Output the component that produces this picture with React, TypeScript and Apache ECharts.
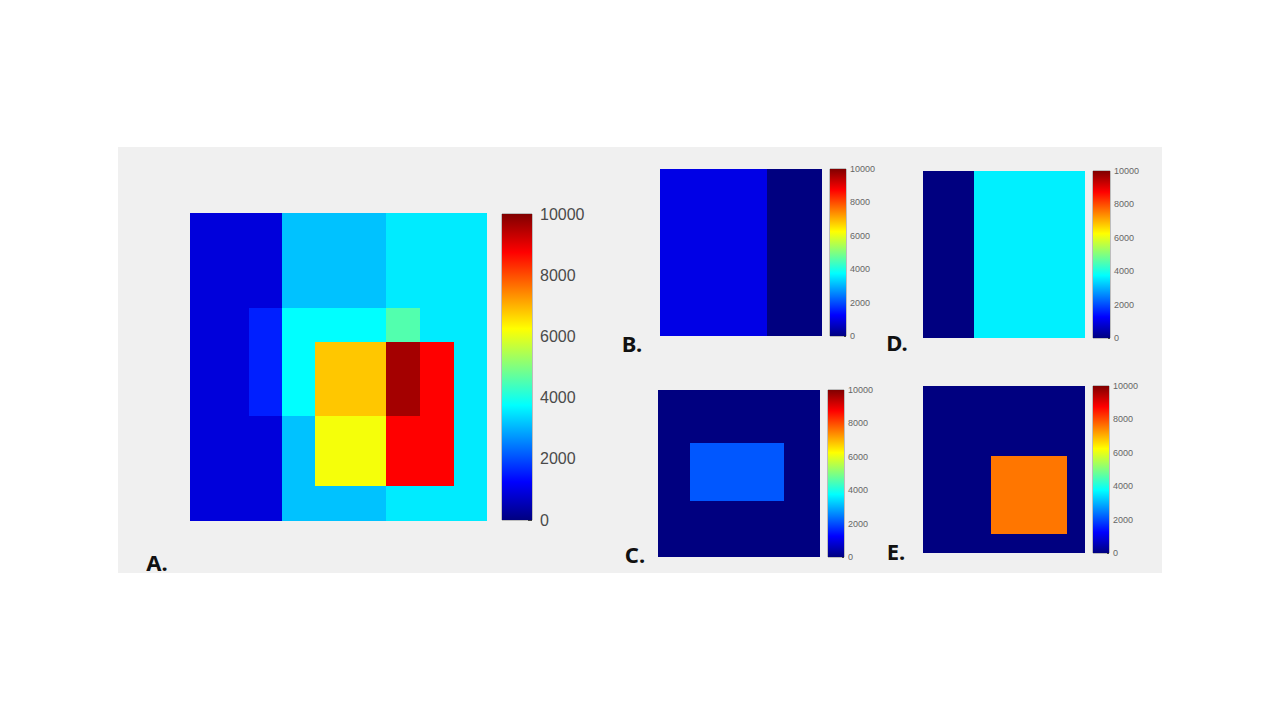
import React, { useEffect, useRef } from "react";
import * as echarts from "echarts";

// Each rect: [x0, x1, y0, y1, value] in fractions of the image (y measured from the top)
const panelA: number[][] = [
  [0, 0.31, 0, 1, 900],
  [0.31, 0.66, 0, 1, 3150],
  [0.66, 1, 0, 1, 3550],
  [0.2, 0.31, 0.31, 0.66, 1550],
  [0.31, 0.66, 0.31, 0.66, 3750],
  [0.66, 0.775, 0.31, 0.66, 4550],
  [0.42, 0.66, 0.42, 0.66, 6800],
  [0.66, 0.775, 0.42, 0.66, 9650],
  [0.775, 0.89, 0.42, 0.885, 8750],
  [0.66, 0.775, 0.66, 0.885, 8750],
  [0.42, 0.66, 0.66, 0.885, 6150],
];
const panelB: number[][] = [
  [0, 0.663, 0, 1, 1000],
  [0.663, 1, 0, 1, 0],
];
const panelC: number[][] = [
  [0, 1, 0, 1, 0],
  [0.2, 0.775, 0.316, 0.666, 2100],
];
const panelD: number[][] = [
  [0, 0.313, 0, 1, 0],
  [0.313, 1, 0, 1, 3600],
];
const panelE: number[][] = [
  [0, 1, 0, 1, 0],
  [0.42, 0.89, 0.42, 0.885, 7600],
];
const panelNames = ["A.", "B.", "C.", "D.", "E."];
const colorMin = 0;
const colorMax = 10000;
const colorStep = 2000;
const jetStops = [
  "#000080", "#0000ff", "#0080ff", "#00ffff", "#80ff80",
  "#ffff00", "#ff8000", "#ff0000", "#800000",
];

type Layout = {
  main: [number, number, number, number];
  bar: [number, number, number, number];
  label: [number, number];
  fontSize: number;
  margin: number;
  tick: number;
};

const layouts: Layout[] = [
  { main: [190, 213, 297, 308], bar: [502, 214, 30, 306], label: [157, 562], fontSize: 16, margin: 8, tick: 4 },
  { main: [660, 169, 162, 167], bar: [830, 169, 16, 167], label: [632, 343], fontSize: 9, margin: 4, tick: 2 },
  { main: [658, 390, 162, 167], bar: [828, 390, 16, 167], label: [635, 554], fontSize: 9, margin: 4, tick: 2 },
  { main: [923, 171, 162, 167], bar: [1093, 171, 17, 167], label: [897, 342], fontSize: 9, margin: 4, tick: 2 },
  { main: [923, 386, 162, 167], bar: [1093, 386, 16, 167], label: [896, 551], fontSize: 9, margin: 4, tick: 2 },
];

const panelsData = [panelA, panelB, panelC, panelD, panelE];

export default function App() {
  const ref = useRef<HTMLDivElement>(null);
  useEffect(() => {
    if (!ref.current) return;
    const chart = echarts.init(ref.current, null, { renderer: "svg" });
    const grid: any[] = [];
    const xAxis: any[] = [];
    const yAxis: any[] = [];
    const series: any[] = [];
    const customIdx: number[] = [];
    const gradient = new echarts.graphic.LinearGradient(
      0, 1, 0, 0,
      jetStops.map((c, i) => ({ offset: i / (jetStops.length - 1), color: c }))
    );
    layouts.forEach((L, i) => {
      const gi = grid.length;
      grid.push({ left: L.main[0], top: L.main[1], width: L.main[2], height: L.main[3], containLabel: false });
      xAxis.push({ gridIndex: gi, type: "value", min: 0, max: 1, show: false });
      yAxis.push({ gridIndex: gi, type: "value", min: 0, max: 1, inverse: true, show: false });
      customIdx.push(series.length);
      series.push({
        type: "custom",
        xAxisIndex: gi,
        yAxisIndex: gi,
        data: panelsData[i],
        encode: { x: [0, 1], y: [2, 3] },
        renderItem: (params: any, api: any) => {
          const p0 = api.coord([api.value(0), api.value(2)]);
          const p1 = api.coord([api.value(1), api.value(3)]);
          const x0 = Math.round(Math.min(p0[0], p1[0]));
          const x1 = Math.round(Math.max(p0[0], p1[0]));
          const y0 = Math.round(Math.min(p0[1], p1[1]));
          const y1 = Math.round(Math.max(p0[1], p1[1]));
          return {
            type: "rect",
            shape: { x: x0, y: y0, width: x1 - x0, height: y1 - y0 },
            style: { fill: api.visual("color") },
          };
        },
      });
      const bi = grid.length;
      grid.push({
        left: L.bar[0], top: L.bar[1], width: L.bar[2], height: L.bar[3],
        show: true, borderColor: "#8a8a8a", borderWidth: 1, backgroundColor: "transparent",
      });
      xAxis.push({ gridIndex: bi, type: "category", data: ["cb"], show: false, boundaryGap: true });
      yAxis.push({
        gridIndex: bi, type: "value", position: "right", min: colorMin, max: colorMax, interval: colorStep,
        axisLine: { show: false },
        splitLine: { show: false },
        axisTick: { show: true, inside: true, length: L.tick, lineStyle: { color: "#404040" } },
        axisLabel: {
          show: true, margin: L.margin, fontSize: L.fontSize, color: i === 0 ? "#4a4a4a" : "#666666",
          fontFamily: "Liberation Sans, Arial, sans-serif",
          formatter: (v: number) => String(v),
        },
      });
      series.push({
        type: "bar", xAxisIndex: bi, yAxisIndex: bi, data: [colorMax],
        barWidth: "100%", barCategoryGap: 0, silent: true,
        itemStyle: { color: gradient },
        z: 1,
      });
    });
    chart.setOption({
      animation: false,
      backgroundColor: "#ffffff",
      grid, xAxis, yAxis, series,
      visualMap: {
        type: "continuous", show: false, min: colorMin, max: colorMax, dimension: 4,
        seriesIndex: customIdx, inRange: { color: jetStops },
      },
      graphic: [
        {
          type: "rect", z: -10, silent: true,
          shape: { x: 118, y: 147, width: 1044, height: 426 },
          style: { fill: "#f0f0f0" },
        },
        ...layouts.map((L, i) => ({
          type: "text", x: L.label[0], y: L.label[1], z: 10,
          style: {
            text: panelNames[i], fill: "#111111", fontSize: 22, fontWeight: "bold",
            fontFamily: "Noto Sans, Open Sans, sans-serif", align: "center", verticalAlign: "middle",
          },
        })),
      ],
    });
    return () => chart.dispose();
  }, []);
  return <div ref={ref} style={{ position: "fixed", left: 0, top: 0, width: 1280, height: 720 }} />;
}
